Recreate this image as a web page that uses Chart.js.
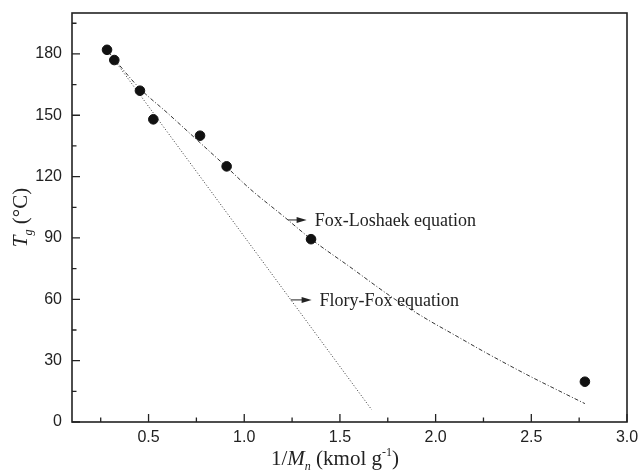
<!DOCTYPE html>
<html lang="en">
<head>
<meta charset="UTF-8">
<title>Tg vs 1/Mn</title>
<script src="https://cdn.jsdelivr.net/npm/chart.js@4.4.1/dist/chart.umd.min.js"></script>
<style>
  html, body { margin: 0; padding: 0; background: #fff; }
  .wrap { width: 641px; height: 472px; }
</style>
</head>
<body>
<div class="wrap"><canvas id="tgChart"></canvas></div>
<script>
// measured Tg values
const invMn = [0.283, 0.321, 0.455, 0.525, 0.769, 0.908, 1.349, 2.780];
const tgMeasured = [182, 177, 162, 148, 140, 125, 89.4, 19.7];

// Flory-Fox fit (straight line)
const floryX = [0.29, 1.666];
const floryY = [181, 6];

// Fox-Loshaek fit
const foxX = [0.29, 0.45, 0.60, 0.77, 0.91, 1.03, 1.20, 1.35, 1.55, 1.78, 1.95, 2.10, 2.27, 2.49, 2.65, 2.78];
const foxY = [181, 163.5, 151, 136.5, 124.5, 114, 101, 89.4, 76, 60.5, 50.5, 42.5, 33.5, 22.5, 15, 9];

// axes
const xTicks = [0.5, 1.0, 1.5, 2.0, 2.5, 3.0];
const xTickLabels = ['0.5', '1.0', '1.5', '2.0', '2.5', '3.0'];
const xMinor = [0.25, 0.75, 1.25, 1.75, 2.25, 2.75];
const yTicks = [0, 30, 60, 90, 120, 150, 180];
const yTickLabels = ['0', '30', '60', '90', '120', '150', '180'];
const yMinor = [15, 45, 75, 105, 135, 165, 195];

// labels with arrows: [arrow x0, arrow x1, y] in data units
const foxLabel = { text: 'Fox-Loshaek equation', x0: 1.229, x1: 1.326, y: 98.8 };
const floryLabel = { text: 'Flory-Fox equation', x0: 1.243, x1: 1.352, y: 59.7 };

const serif = '"Liberation Serif", "Times New Roman", serif';
const ink = '#222';

const toPts = (xs, ys) => xs.map((x, i) => ({ x: x, y: ys[i] }));

// draws the frame, inward ticks, axis titles and the arrow labels
const decorations = {
    id: 'decorations',
    afterDraw(chart) {
        const ctx = chart.ctx;
        const a = chart.chartArea;
        const xs = chart.scales.x, ys = chart.scales.y;
        ctx.save();

        // ticks
        ctx.strokeStyle = ink;
        ctx.lineWidth = 1.3;
        ctx.beginPath();
        xTicks.forEach(v => { const p = xs.getPixelForValue(v); ctx.moveTo(p, a.bottom); ctx.lineTo(p, a.bottom - 8); });
        xMinor.forEach(v => { const p = xs.getPixelForValue(v); ctx.moveTo(p, a.bottom); ctx.lineTo(p, a.bottom - 4.5); });
        yTicks.forEach(v => { const p = ys.getPixelForValue(v); ctx.moveTo(a.left, p); ctx.lineTo(a.left + 8, p); });
        yMinor.forEach(v => { const p = ys.getPixelForValue(v); ctx.moveTo(a.left, p); ctx.lineTo(a.left + 4.5, p); });
        ctx.stroke();

        // frame
        ctx.lineWidth = 1.6;
        ctx.strokeRect(a.left, a.top, a.right - a.left, a.bottom - a.top);

        // arrow labels
        [foxLabel, floryLabel].forEach(l => {
            const px0 = xs.getPixelForValue(l.x0), px1 = xs.getPixelForValue(l.x1);
            const py = ys.getPixelForValue(l.y);
            ctx.lineWidth = 1;
            ctx.beginPath();
            ctx.moveTo(px0, py); ctx.lineTo(px1 - 8, py);
            ctx.stroke();
            ctx.fillStyle = ink;
            ctx.beginPath();
            ctx.moveTo(px1, py); ctx.lineTo(px1 - 10, py - 3); ctx.lineTo(px1 - 10, py + 3);
            ctx.closePath();
            ctx.fill();
            ctx.font = '18px ' + serif;
            ctx.textBaseline = 'alphabetic';
            ctx.textAlign = 'left';
            ctx.fillText(l.text, px1 + 8, py + 6.5);
        });

        // rich text helper: parts = [text, font, dy]
        const drawParts = (parts, cx, cy) => {
            let w = 0;
            parts.forEach(p => { ctx.font = p[1]; w += ctx.measureText(p[0]).width; });
            let x = cx - w / 2;
            parts.forEach(p => {
                ctx.font = p[1];
                ctx.fillText(p[0], x, cy + p[2]);
                x += ctx.measureText(p[0]).width;
            });
        };
        ctx.fillStyle = ink;
        ctx.textAlign = 'left';
        ctx.textBaseline = 'alphabetic';

        // x title
        drawParts([
            ['1/', '21px ' + serif, 0],
            ['M', 'italic 21px ' + serif, 0],
            ['n', 'italic 12px ' + serif, 5],
            [' (kmol g', '21px ' + serif, 0],
            ['-1', '12px ' + serif, -9],
            [')', '21px ' + serif, 0]
        ], 335, 465);

        // y title
        ctx.translate(27, (a.top + a.bottom) / 2);
        ctx.rotate(-Math.PI / 2);
        drawParts([
            ['T', 'italic 21px ' + serif, 0],
            ['g', 'italic 12px ' + serif, 5],
            [' (\u00B0C)', '21px ' + serif, 0]
        ], 0, 0);

        ctx.restore();
    }
};

new Chart(document.getElementById('tgChart'), {
    type: 'scatter',
    data: {
        datasets: [{
            label: 'Measured',
            data: toPts(invMn, tgMeasured),
            backgroundColor: '#111',
            borderColor: '#111',
            pointRadius: 4.8,
            showLine: false
        }, {
            label: 'Flory-Fox equation',
            data: toPts(floryX, floryY),
            showLine: true,
            borderColor: '#333',
            borderWidth: 1,
            borderDash: [1, 2],
            pointRadius: 0
        }, {
            label: 'Fox-Loshaek equation',
            data: toPts(foxX, foxY),
            showLine: true,
            borderColor: '#333',
            borderWidth: 1,
            borderDash: [4, 2, 1, 2],
            cubicInterpolationMode: 'monotone',
            pointRadius: 0
        }]
    },
    options: {
        responsive: true,
        maintainAspectRatio: false,
        animation: false,
        events: [],
        layout: { padding: { top: 13, right: 14, left: 0, bottom: 0 } },
        plugins: { legend: { display: false }, tooltip: { enabled: false } },
        scales: {
            x: {
                type: 'linear',
                min: 0.1,
                max: 3.0,
                grid: { display: false, drawTicks: false },
                border: { display: false },
                afterBuildTicks: s => { s.ticks = xTicks.map(v => ({ value: v })); },
                afterFit: s => { s.height = 50; s.paddingLeft = 0; s.paddingRight = 0; },
                ticks: {
                    padding: 6,
                    color: ink,
                    font: { family: '"Liberation Sans", Arial, sans-serif', size: 16 },
                    maxRotation: 0,
                    callback: (v) => xTickLabels[xTicks.indexOf(v)]
                }
            },
            y: {
                type: 'linear',
                min: 0,
                max: 200,
                grid: { display: false, drawTicks: false },
                border: { display: false },
                afterBuildTicks: s => { s.ticks = yTicks.map(v => ({ value: v })); },
                afterFit: s => { s.width = 72; s.paddingTop = 0; s.paddingBottom = 0; },
                ticks: {
                    padding: 10,
                    color: ink,
                    font: { family: '"Liberation Sans", Arial, sans-serif', size: 16 },
                    callback: (v) => yTickLabels[yTicks.indexOf(v)]
                }
            }
        }
    },
    plugins: [decorations]
});
</script>
</body>
</html>
